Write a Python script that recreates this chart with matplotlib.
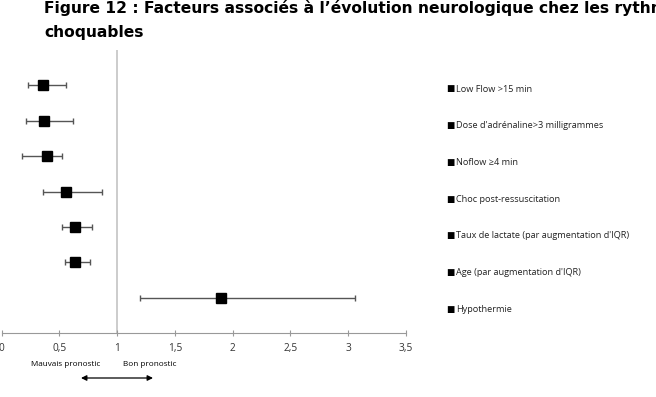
import matplotlib
matplotlib.use("Agg")
import matplotlib.pyplot as plt

# values
labels = [
    "Low Flow >15 min",
    "Dose d'adrénaline>3 milligrammes",
    "Noflow ≥4 min",
    "Choc post-ressuscitation",
    "Taux de lactate (par augmentation d'IQR)",
    "Age (par augmentation d'IQR)",
    "Hypothermie",
]
odds  = [0.36, 0.37, 0.39, 0.56, 0.64, 0.64, 1.90]
low   = [0.23, 0.21, 0.18, 0.36, 0.52, 0.55, 1.20]
high  = [0.56, 0.62, 0.52, 0.87, 0.78, 0.77, 3.06]
xticks = [0, 0.5, 1, 1.5, 2, 2.5, 3, 3.5]
xtick_labels = ["0", "0,5", "1", "1,5", "2", "2,5", "3", "3,5"]

plt.rcParams["font.family"] = ["Open Sans", "DejaVu Sans"]

W, H = 656, 397
fig = plt.figure(figsize=(W / 100, H / 100), dpi=100)
ax = fig.add_axes([1.5 / W, 1 - 333 / H, (406 - 1.5) / W, (333 - 50) / H])

ypos = list(range(1, len(odds) + 1))
xerr = [[o - l for o, l in zip(odds, low)], [h - o for o, h in zip(odds, high)]]
ax.errorbar(odds, ypos, xerr=xerr, fmt="s", color="black", ms=6.5,
            ecolor="#555555", elinewidth=1, capsize=2.5, capthick=1, zorder=3)
ax.axvline(1, color="#c4c4c4", lw=1.2, zorder=1)

ax.set_xlim(0, 3.5)
ax.set_ylim(8, 0)
ax.set_xticks(xticks)
ax.set_xticklabels(xtick_labels, fontsize=7.3, color="#333333")
ax.set_yticks([])
for s in ["top", "right", "left"]:
    ax.spines[s].set_visible(False)
ax.spines["bottom"].set_color("#999999")
ax.tick_params(axis="x", direction="inout", length=5, color="#999999", pad=5)

# legend-like labels on the right
for i, lab in enumerate(labels):
    y = 1 - (89 + i * 36.7) / H
    fig.text(446.5 / W, y, "■", fontsize=6.3, va="center", ha="left",
             family=["DejaVu Sans"])
    fig.text(456 / W, y, lab, fontsize=6.6, va="center", ha="left", color="#222222")

# prognosis annotation
fig.text(66 / W, 1 - 364 / H, "Mauvais pronostic", fontsize=5.9, ha="center", va="center")
fig.text(150 / W, 1 - 364 / H, "Bon pronostic", fontsize=5.9, ha="center", va="center")
fig.add_artist(matplotlib.patches.FancyArrowPatch(
    (81 / W, 1 - 378 / H), (153 / W, 1 - 378 / H), transform=fig.transFigure,
    arrowstyle="<|-|>", mutation_scale=8, color="black", lw=0.9,
    shrinkA=0, shrinkB=0))

# title (cut at the right edge, as in the source)
fig.text(44 / W, 1 - 8 / H,
         "Figure 12 : Facteurs associés à l’évolution neurologique chez les rythmes",
         fontsize=11.2, fontweight="bold", family=["DejaVu Sans"], va="center")
fig.text(44 / W, 1 - 32 / H, "choquables",
         fontsize=11.2, fontweight="bold", family=["DejaVu Sans"], va="center")

fig.savefig("out.png", dpi=100)
